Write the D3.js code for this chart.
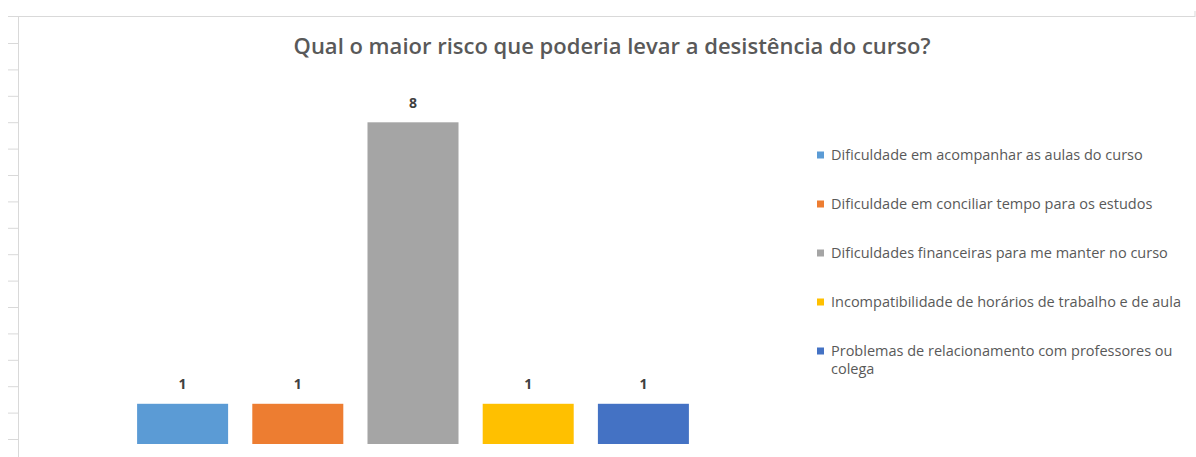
<!DOCTYPE html>
<html>
<head>
<meta charset="utf-8">
<script src="https://cdn.jsdelivr.net/npm/d3@7"></script>
<style>
  body { margin: 0; background: #fff; }
  svg { display: block; font-family: "Open Sans", sans-serif; }
</style>
</head>
<body>
<div id="chart"></div>
<script>
const categories = [
  "Dificuldade em acompanhar as aulas do curso",
  "Dificuldade em conciliar tempo para os estudos",
  "Dificuldades financeiras para me manter no curso",
  "Incompatibilidade de horários de trabalho e de aula",
  "Problemas de relacionamento com professores ou colega"
];
const values = [1, 1, 8, 1, 1];
const colors = ["#5b9bd5", "#ed7d31", "#a5a5a5", "#ffc000", "#4472c4"];
const title = "Qual o maior risco que poderia levar a desistência do curso?";

const width = 1196, height = 457;

const svg = d3.select("#chart")
  .append("svg")
  .attr("width", width)
  .attr("height", height);

// sheet frame: top border and left row ruler
svg.append("line")
  .attr("x1", 8).attr("x2", 1195)
  .attr("y1", 16.5).attr("y2", 16.5)
  .style("stroke", "#d9d9d9");
svg.append("line")
  .attr("x1", 1195).attr("x2", 1195)
  .attr("y1", 11).attr("y2", 17)
  .style("stroke", "#d9d9d9");
svg.append("line")
  .attr("x1", 18.5).attr("x2", 18.5)
  .attr("y1", 17).attr("y2", height)
  .style("stroke", "#d9d9d9");

const rows = d3.range(16);
const rowY = d3.scaleLinear().domain([0, 15]).range([43.5, 439.5]);
svg.selectAll(".row-tick")
  .data(rows)
  .enter()
  .append("line")
  .attr("class", "row-tick")
  .attr("x1", 8).attr("x2", 18)
  .attr("y1", d => rowY(d)).attr("y2", d => rowY(d))
  .style("stroke", "#d9d9d9");

// title
svg.append("text")
  .attr("x", 612)
  .attr("y", 54)
  .attr("text-anchor", "middle")
  .style("font-size", "22px")
  .style("font-weight", "600")
  .style("fill", "#595959")
  .text(title);

const x = d3.scaleBand()
  .domain(categories)
  .range([125, 701])
  .paddingInner(0.21)
  .paddingOuter(0.105);

const y = d3.scaleLinear()
  .domain([0, 8])
  .range([444, 122.3]);

svg.selectAll(".bar")
  .data(values)
  .enter()
  .append("rect")
  .attr("class", "bar")
  .attr("x", (d, i) => x(categories[i]))
  .attr("y", d => y(d))
  .attr("width", x.bandwidth())
  .attr("height", d => y(0) - y(d))
  .style("fill", (d, i) => colors[i]);

svg.selectAll(".val")
  .data(values)
  .enter()
  .append("text")
  .attr("class", "val")
  .attr("x", (d, i) => x(categories[i]) + x.bandwidth() / 2)
  .attr("y", d => y(d) - 14.5)
  .attr("text-anchor", "middle")
  .style("font-size", "14px")
  .style("font-weight", "bold")
  .style("fill", "#404040")
  .text(d => d);

// legend
const legendY = d3.scalePoint()
  .domain(categories)
  .range([155, 351]);

const legend = svg.selectAll(".legend")
  .data(categories)
  .enter()
  .append("g")
  .attr("class", "legend")
  .attr("transform", d => "translate(817," + legendY(d) + ")");

legend.append("rect")
  .attr("x", 0)
  .attr("y", -3.5)
  .attr("width", 7)
  .attr("height", 7)
  .style("fill", (d, i) => colors[i]);

const legendText = legend.append("text")
  .attr("x", 14)
  .attr("y", 5)
  .style("font-size", "14.5px")
  .style("fill", "#595959");

// the last entry wraps onto a second line
legendText.each(function (d, i) {
  const t = d3.select(this);
  if (i === categories.length - 1) {
    const cut = d.lastIndexOf(" ");
    t.append("tspan").attr("x", 14).text(d.slice(0, cut));
    t.append("tspan").attr("x", 14).attr("dy", 18).text(d.slice(cut + 1));
  } else {
    t.text(d);
  }
});
</script>
</body>
</html>
